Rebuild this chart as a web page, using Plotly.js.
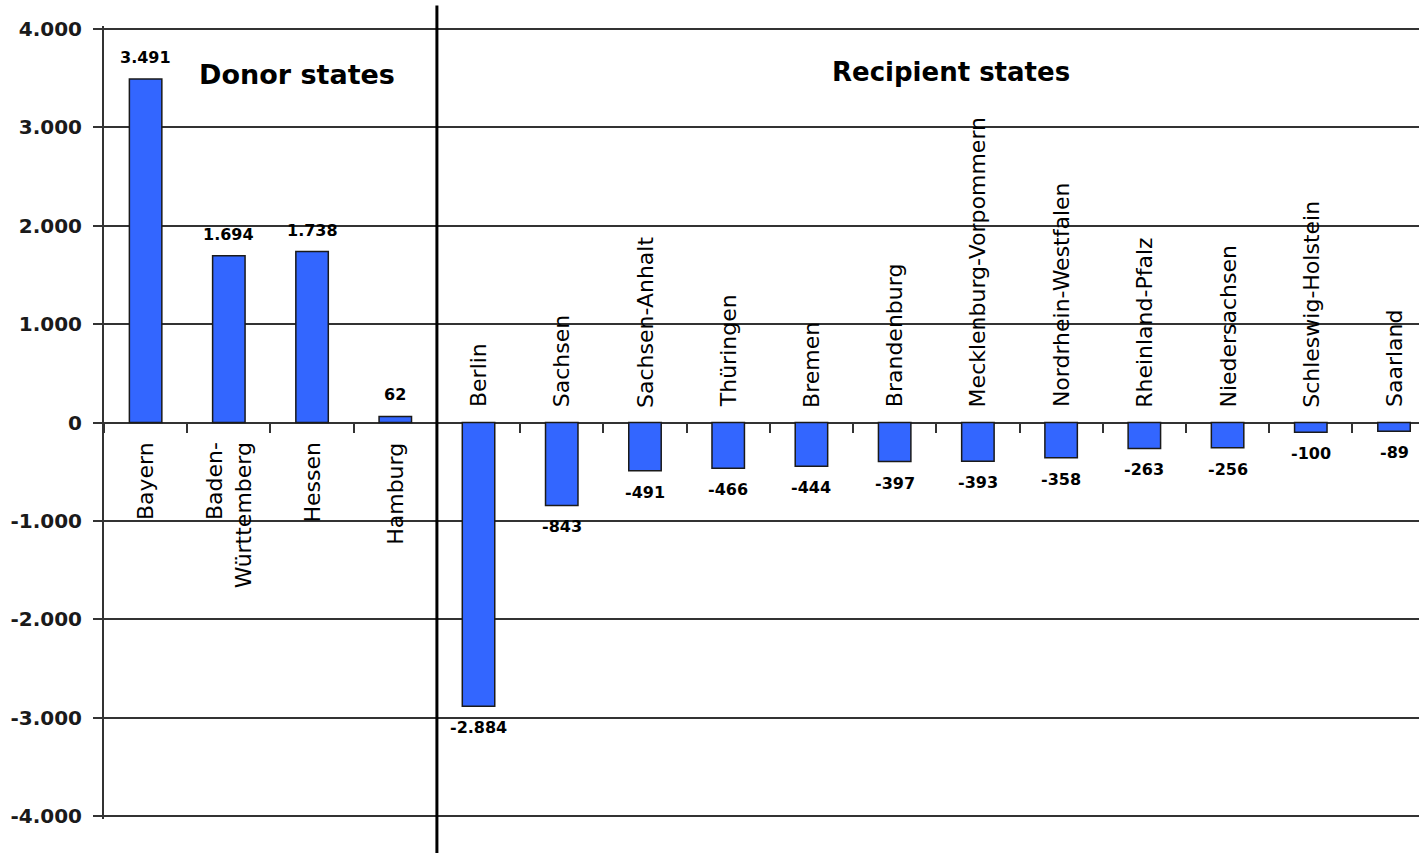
<!DOCTYPE html>
<html>
<head>
<meta charset="utf-8">
<script src="https://cdn.plot.ly/plotly-3.0.1.min.js"></script>
<style>
  html, body { margin: 0; padding: 0; background: #fff; overflow: hidden; }
  #chart { width: 1419px; height: 853px; }
</style>
</head>
<body>
<div id="chart"></div>
<script>
// ---- data ----
const categories = ['Bayern', 'Baden-Württemberg', 'Hessen', 'Hamburg', 'Berlin', 'Sachsen',
  'Sachsen-Anhalt', 'Thüringen', 'Bremen', 'Brandenburg', 'Mecklenburg-Vorpommern',
  'Nordrhein-Westfalen', 'Rheinland-Pfalz', 'Niedersachsen', 'Schleswig-Holstein', 'Saarland'];
const categoryLabels = ['Bayern', 'Baden-<br>Württemberg', 'Hessen', 'Hamburg', 'Berlin', 'Sachsen',
  'Sachsen-Anhalt', 'Thüringen', 'Bremen', 'Brandenburg', 'Mecklenburg-Vorpommern',
  'Nordrhein-Westfalen', 'Rheinland-Pfalz', 'Niedersachsen', 'Schleswig-Holstein', 'Saarland'];
const values = [3491, 1694, 1738, 62, -2884, -843, -491, -466, -444, -397, -393, -358, -263, -256, -100, -89];
const yTickVals = [-4000, -3000, -2000, -1000, 0, 1000, 2000, 3000, 4000];
const yTickText = ['-4.000', '-3.000', '-2.000', '-1.000', '0', '1.000', '2.000', '3.000', '4.000'];
const groupTitles = ['Donor states', 'Recipient states'];
const donorCount = 4;

function fmt(v) {
  const s = Math.abs(v).toString().replace(/\B(?=(\d{3})+(?!\d))/g, '.');
  return (v < 0 ? '-' : '') + s;
}

const FONT = 'DejaVu Sans, Verdana, sans-serif';

const trace = {
  type: 'bar',
  x: categories,
  y: values,
  width: 0.39,
  marker: { color: '#3366FF', line: { color: '#1a1a1a', width: 1.5 } },
  hoverinfo: 'x+y'
};

const annotations = [];
// value labels
values.forEach((v, i) => {
  annotations.push({
    x: categories[i], y: v, xref: 'x', yref: 'y',
    text: fmt(v), showarrow: false,
    yanchor: v >= 0 ? 'bottom' : 'top',
    yshift: v >= 0 ? 10 : -10,
    font: { family: FONT, size: 16, color: '#000', weight: 'bold' }
  });
});
// category labels (rotated)
categoryLabels.forEach((lab, i) => {
  const pos = values[i] >= 0;
  annotations.push({
    x: categories[i], y: 0, xref: 'x', yref: 'y',
    text: lab, showarrow: false, textangle: -90,
    align: pos ? 'right' : 'left',
    yanchor: pos ? 'top' : 'bottom',
    yshift: pos ? -18 : 13,
    font: { family: FONT, size: 22, color: '#000' }
  });
});
// group titles
annotations.push({
  x: 1.82, y: 3540, xref: 'x', yref: 'y', text: '<b>' + groupTitles[0] + '</b>',
  showarrow: false, xanchor: 'center', yanchor: 'middle',
  font: { family: FONT, size: 27, color: '#000' }
});
annotations.push({
  x: 9.68, y: 3560, xref: 'x', yref: 'y', text: '<b>' + groupTitles[1] + '</b>',
  showarrow: false, xanchor: 'center', yanchor: 'middle',
  font: { family: FONT, size: 26, color: '#000' }
});

const layout = {
  width: 1419, height: 853,
  margin: { l: 104, r: 0, t: 26, b: 34 },
  paper_bgcolor: '#fff', plot_bgcolor: '#fff',
  showlegend: false,
  xaxis: {
    type: 'category',
    range: [-0.5, 15.3],
    showticklabels: false,
    showgrid: false,
    zeroline: false,
    showline: false,
    ticks: 'outside', ticklen: 9, tickwidth: 2, tickcolor: '#333',
    tickson: 'boundaries',
    anchor: 'free', position: 0.5
  },
  yaxis: {
    range: [-4030, 4030],
    tickvals: yTickVals, ticktext: yTickText,
    showgrid: true, gridcolor: '#333', gridwidth: 2,
    zeroline: false,
    showline: true, linecolor: '#333', linewidth: 2,
    ticks: 'outside', ticklen: 9, tickwidth: 2, tickcolor: '#333',
    ticklabelstandoff: 7,
    tickfont: { family: FONT, size: 20, color: '#1a1a1a', weight: 'bold' }
  },
  shapes: [{
    type: 'line', xref: 'x', yref: 'paper',
    x0: donorCount - 0.5, x1: donorCount - 0.5, y0: -0.045, y1: 1.026,
    line: { color: '#000', width: 3 }
  }],
  annotations: annotations
};

Plotly.newPlot('chart', [trace], layout, { displayModeBar: false, staticPlot: true });
</script>
</body>
</html>
